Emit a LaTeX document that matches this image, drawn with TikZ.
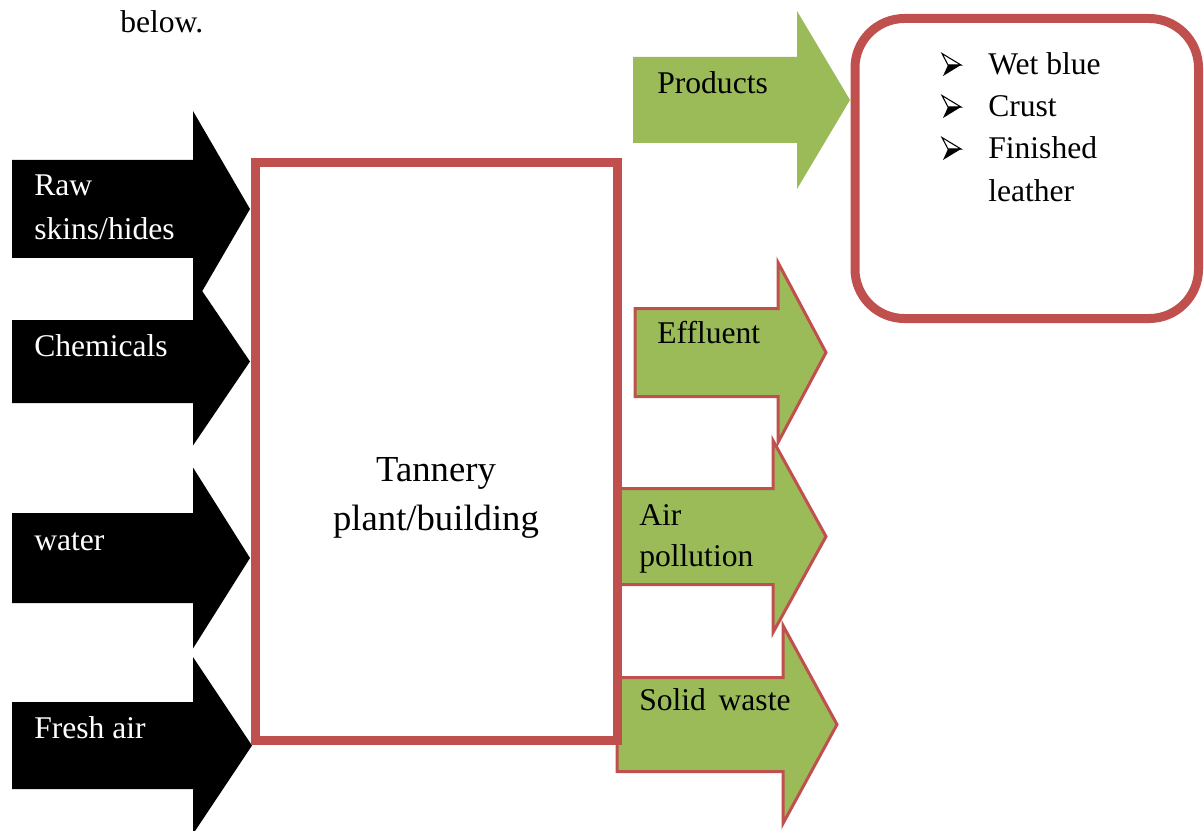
\documentclass[tikz,border=0pt]{standalone}
\usepackage{fontspec}
\setmainfont{Liberation Serif}
\definecolor{ared}{HTML}{C0504D}
\definecolor{agreen}{HTML}{9BBB59}
% #1 style, #2 x start, #3 x neck, #4 x tip, #5 centre y, #6 body half height, #7 head half height
\newcommand{\blockarrow}[7][]{%
  \path[#1] ({#2},{#5-#6}) -- ({#3},{#5-#6}) -- ({#3},{#5-#7}) -- ({#4},{#5})
    -- ({#3},{#5+#7}) -- ({#3},{#5+#6}) -- ({#2},{#5+#6}) -- cycle;}
\begin{document}
\begin{tikzpicture}[x=0.75pt,y=-0.75pt,
  lbl/.style={anchor=base west,inner sep=0pt,font=\fontsize{23.7}{28}\selectfont},
  wlbl/.style={lbl,text=white},
  biglbl/.style={anchor=base,inner sep=0pt,font=\fontsize{27.5}{33}\selectfont},
  inarrow/.style={fill=black},
  outarrow/.style={fill=agreen,draw=ared,line width=2.25pt,line join=miter},
  prodarrow/.style={fill=agreen},
  plantbox/.style={draw=ared,line width=6.75pt},
  resultbox/.style={draw=ared,line width=6.75pt,rounded corners=37pt},
  bulletmark/.pic={
    \draw[line width=0.8pt,line join=miter] (0,-11.5) -- (19,0) -- (6,0) -- cycle;
    \fill (6,0) -- (19,0) -- (1,11) -- cycle;
  },
]
\useasboundingbox (0,0) rectangle (1204,831);

% input arrows
\blockarrow[inarrow]{12}{193}{250}{209}{49}{98}
\blockarrow[inarrow]{12}{193}{250}{361.5}{41.5}{84}
\blockarrow[inarrow]{12}{193}{250}{558}{45}{90.5}
\blockarrow[inarrow]{12}{193}{252}{745.5}{43.5}{88.5}

% output arrows
\blockarrow[prodarrow]{633}{797}{850}{100}{43}{89}
\blockarrow[outarrow]{635}{778}{826}{352.5}{44}{90}
\blockarrow[outarrow]{618}{773}{826}{536.5}{48}{96}
\blockarrow[outarrow]{617}{783}{837}{724.5}{47}{99}

% plant and products box
\draw[plantbox] (255,163) rectangle (617,740);
\draw[resultbox] (855,18.5) rectangle (1198.5,318.5);

% texts
\node[lbl] (below) at (120,33) {below.};
\node[wlbl] (raw1) at (34,196) {Raw};
\node[wlbl] (raw2) at (34,240) {skins/hides};
\node[wlbl] (chem) at (34,356) {Chemicals};
\node[wlbl] (water) at (34,550) {water};
\node[wlbl] (fresh) at (34,738) {Fresh air};

\node[biglbl] (plant1) at (436,481) {Tannery};
\node[biglbl] (plant2) at (436,530) {plant/building};

\node[lbl] (prod) at (657,94) {Products};
\node[lbl] (eff) at (657,343) {Effluent};
\node[lbl] (air1) at (639,525) {Air};
\node[lbl] (air2) at (639,566) {pollution};
\node[lbl] (solid) at (639,710) {Solid\hskip 0.4em waste};

\pic at (942,65) {bulletmark};
\pic at (942,107) {bulletmark};
\pic at (942,149) {bulletmark};
\node[lbl] (i1) at (988,75) {Wet blue};
\node[lbl] (i2) at (988,117) {Crust};
\node[lbl] (i3) at (988,159) {Finished};
\node[lbl] (i4) at (988,202) {leather};
\end{tikzpicture}
\end{document}
